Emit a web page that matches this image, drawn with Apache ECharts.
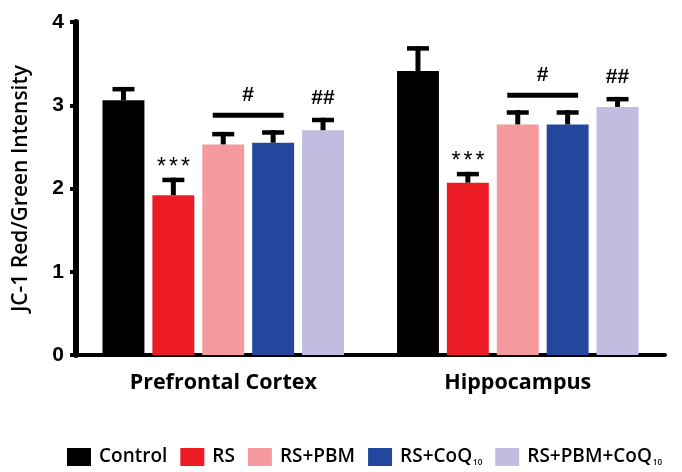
<!DOCTYPE html>
<html>
<head>
<meta charset="utf-8">
<script src="https://cdn.jsdelivr.net/npm/echarts@6/dist/echarts.min.js"></script>
<style>html,body{margin:0;padding:0;background:#fff}#c{width:682px;height:472px}</style>
</head>
<body>
<div id="c"></div>
<script>
const categories = ['Prefrontal Cortex', 'Hippocampus'];
const seriesNames = ['Control', 'RS', 'RS+PBM', 'RS+CoQ10', 'RS+PBM+CoQ10'];
const colors = ['#000000', '#ed1c24', '#f4999d', '#24479d', '#c0bde0'];
const yTicks = [0, 1, 2, 3, 4];

const controlMean = [3.06, 3.41];
const controlErr  = [0.16, 0.30];
const rsMean      = [1.92, 2.07];
const rsErr       = [0.21, 0.13];
const pbmMean     = [2.53, 2.77];
const pbmErr      = [0.15, 0.17];
const coqMean     = [2.55, 2.77];
const coqErr      = [0.15, 0.17];
const pbmCoqMean  = [2.70, 2.98];
const pbmCoqErr   = [0.15, 0.12];

const rsSig     = ['***', '***'];
const pairSig   = ['#', '#'];
const pbmCoqSig = ['##', '##'];

const means = [controlMean, rsMean, pbmMean, coqMean, pbmCoqMean];
const errs  = [controlErr, rsErr, pbmErr, coqErr, pbmCoqErr];

const CAT_GAP = 0.18, BAR_GAP = 0.19, N = 5;
function barOffset(api, j) {
  const band = api.size([1, 0])[0];
  const bw = band * (1 - CAT_GAP) / (N + (N - 1) * BAR_GAP);
  return { off: (j - (N - 1) / 2) * bw * (1 + BAR_GAP), bw: bw };
}

const errData = [];
means.forEach((m, j) => m.forEach((v, i) => errData.push([i, v, errs[j][i], j])));

const chart = echarts.init(document.getElementById('c'));
const barSeries = seriesNames.map((name, j) => ({
  name: name,
  type: 'bar',
  data: means[j],
  barGap: (BAR_GAP * 100) + '%',
  barCategoryGap: (CAT_GAP * 100) + '%',
  itemStyle: { color: colors[j] },
  z: 2
}));

const errSeries = {
  type: 'custom',
  data: errData,
  encode: { x: 0, y: 1 },
  z: 3,
  silent: true,
  renderItem: function (params, api) {
    const i = api.value(0), v = api.value(1), e = api.value(2), j = api.value(3);
    const o = barOffset(api, j);
    const top = api.coord([i, v]);
    const hi = api.coord([i, v + e]);
    const x = top[0] + o.off;
    const capW = 22, th = 4.5, stemW = 5;
    return {
      type: 'group',
      children: [
        { type: 'rect', shape: { x: x - stemW / 2, y: hi[1], width: stemW, height: top[1] - hi[1] }, style: { fill: '#000' } },
        { type: 'rect', shape: { x: x - capW / 2, y: hi[1], width: capW, height: th }, style: { fill: '#000' } }
      ]
    };
  }
};

const sigSeries = {
  type: 'custom',
  data: categories.map((c, i) => [i, 0]),
  encode: { x: 0, y: 1 },
  z: 4,
  silent: true,
  renderItem: function (params, api) {
    const i = api.value(0);
    const txtStyle = { fill: '#000', fontFamily: 'Liberation Sans, Arial, sans-serif', fontSize: 21, fontWeight: 'bold', align: 'center', verticalAlign: 'middle' };
    function topOf(j) {
      const o = barOffset(api, j);
      const p = api.coord([i, means[j][i] + errs[j][i]]);
      return { x: p[0] + o.off, y: p[1], bw: o.bw };
    }
    const rs = topOf(1), p2 = topOf(2), p3 = topOf(3), p4 = topOf(4);
    const lineY = Math.min(p2.y, p3.y) - 15;
    const stars = rsSig[i].split('');
    const children = stars.map((ch, k) => ({
      type: 'text',
      style: Object.assign({}, txtStyle, { text: ch, x: rs.x + (k - (stars.length - 1) / 2) * 12, y: rs.y - 10, fontSize: 23, fontWeight: 'normal' })
    }));
    children.push(
      { type: 'rect', shape: { x: p2.x - p2.bw * 0.25, y: lineY - 2.5, width: (p3.x - p2.x) + p2.bw * 0.5, height: 5 }, style: { fill: '#000' } },
      { type: 'text', style: Object.assign({}, txtStyle, { text: pairSig[i], x: (p2.x + p3.x) / 2, y: lineY - 20 }) },
      { type: 'text', style: Object.assign({}, txtStyle, { text: pbmCoqSig[i], x: p4.x, y: p4.y - 20 }) }
    );
    return { type: 'group', children: children };
  }
};

chart.setOption({
  animation: false,
  backgroundColor: '#fff',
  grid: { left: 76, right: 17, top: 22, bottom: 117 },
  legend: {
    bottom: 0,
    left: 62,
    itemWidth: 24,
    itemHeight: 18,
    itemGap: 13,
    icon: 'rect',
    data: seriesNames,
    formatter: function (name) { return name.replace('CoQ10', 'CoQ{sub|10}'); },
    textStyle: {
      fontFamily: 'Open Sans', fontWeight: 600, fontSize: 19, color: '#000',
      padding: [0, 0, 0, 3],
      rich: { sub: { fontFamily: 'Open Sans', fontWeight: 600, fontSize: 8, color: '#000', padding: [12, 0, 0, 1] } }
    }
  },
  xAxis: {
    type: 'category',
    data: categories,
    axisLine: { lineStyle: { color: '#000', width: 4 } },
    axisTick: { alignWithLabel: true, length: 6, lineStyle: { color: '#000', width: 4 } },
    axisLabel: { fontFamily: 'Open Sans', fontWeight: 700, fontSize: 21.5, color: '#000', margin: 17 }
  },
  yAxis: {
    type: 'value',
    min: yTicks[0],
    max: yTicks[yTicks.length - 1],
    interval: 1,
    name: 'JC-1 Red/Green Intensity',
    nameLocation: 'middle',
    nameGap: 44,
    nameTextStyle: { fontFamily: 'Open Sans', fontWeight: 600, fontSize: 21, color: '#000' },
    axisLine: { show: true, lineStyle: { color: '#000', width: 6 } },
    axisTick: { show: true, length: 6, lineStyle: { color: '#000', width: 4 } },
    minorTick: { show: true, splitNumber: 2, length: 3, lineStyle: { color: '#000', width: 3 } },
    splitLine: { show: false },
    axisLabel: { fontFamily: 'Liberation Sans', fontWeight: 'bold', fontSize: 21, color: '#000', margin: 12 }
  },
  series: barSeries.concat([errSeries, sigSeries])
});
</script>
</body>
</html>
